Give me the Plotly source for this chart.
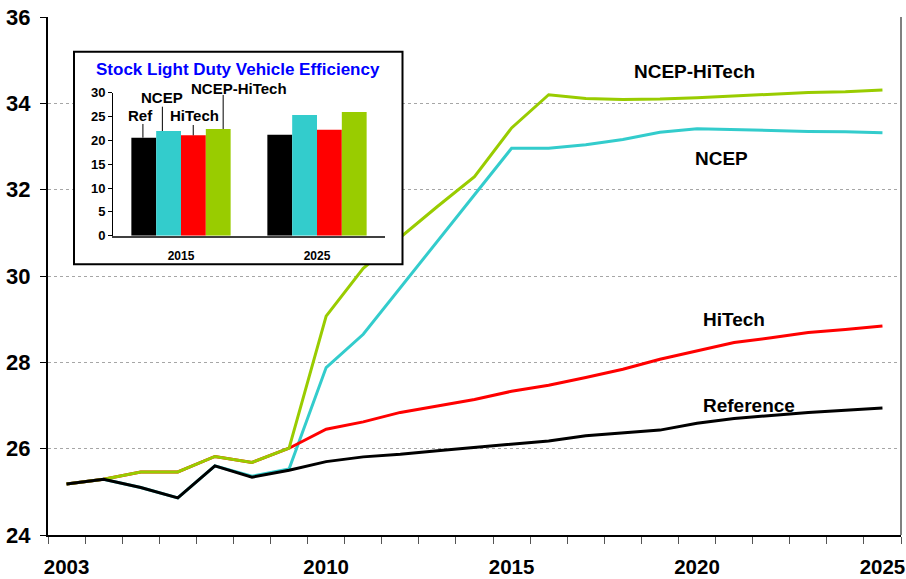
import plotly.graph_objects as go

# ---- Main chart: new light duty vehicle efficiency (mpg) by scenario ----
years = list(range(2003, 2026))
reference = [25.18, 25.29, 25.10, 24.86, 25.60, 25.34, 25.50, 25.70, 25.81, 25.87, 25.95, 26.03,
             26.11, 26.18, 26.30, 26.37, 26.43, 26.59, 26.70, 26.77, 26.84, 26.89, 26.94]
hitech = [25.18, 25.29, 25.46, 25.46, 25.82, 25.68, 26.01, 26.45, 26.62, 26.84, 26.99, 27.14,
          27.33, 27.47, 27.65, 27.84, 28.07, 28.26, 28.46, 28.57, 28.69, 28.76, 28.84]
ncep = [25.18, 25.29, 25.10, 24.86, 25.60, 25.36, 25.53, 27.88, 28.65, 29.73, 30.81, 31.88,
        32.96, 32.96, 33.04, 33.16, 33.33, 33.41, 33.39, 33.36, 33.35, 33.34, 33.32]
ncep_hitech = [25.18, 25.29, 25.46, 25.46, 25.82, 25.68, 26.01, 29.07, 30.18, 30.90, 31.61, 32.30,
               33.43, 34.20, 34.11, 34.09, 34.10, 34.13, 34.17, 34.22, 34.25, 34.27, 34.31]
year_labels = [2003, 2010, 2015, 2020, 2025]

# ---- Inset: stock light duty vehicle efficiency ----
inset_years = ["2015", "2025"]
stock_ref = [20.56, 21.19]
stock_ncep = [21.96, 25.31]
stock_hitech = [21.05, 22.24]
stock_ncep_hitech = [22.38, 25.94]

BLACK = "#000000"
RED = "#FF0000"
CYAN = "#33CCCC"
GREEN = "#99CC00"
FONT = "Liberation Sans"

fig = go.Figure()

# main lines (drawing order: NCEP, HiTech, NCEP-HiTech, Reference on top)
for name, vals, color in [("NCEP", ncep, CYAN), ("HiTech", hitech, RED),
                          ("NCEP-HiTech", ncep_hitech, GREEN), ("Reference", reference, BLACK)]:
    fig.add_trace(go.Scatter(x=years, y=vals, mode="lines", name=name,
                             line=dict(color=color, width=3), xaxis="x", yaxis="y",
                             showlegend=False))

# white panel behind the inset
fig.add_trace(go.Scatter(x=[0, 1, 1, 0, 0], y=[0, 0, 1, 1, 0], mode="lines", fill="toself",
                         fillcolor="white", line=dict(width=0, color="white"),
                         xaxis="x2", yaxis="y2", showlegend=False, hoverinfo="skip"))

# inset bars
inset_x = [0, 1]
for name, vals, color in [("Ref", stock_ref, BLACK), ("NCEP", stock_ncep, CYAN),
                          ("HiTech", stock_hitech, RED), ("NCEP-HiTech", stock_ncep_hitech, GREEN)]:
    fig.add_trace(go.Bar(x=inset_x, y=vals, name=name, marker=dict(color=color, line=dict(width=0)),
                         xaxis="x3", yaxis="y3", showlegend=False))

# plot area: x 48..901 px, y 17..535 px
PLOT_L, PLOT_R = 48, 901
PLOT_W = PLOT_R - PLOT_L


def px_x(p):
    return (p - PLOT_L) / PLOT_W


box_x0, box_x1 = px_x(74), px_x(402.5)
box_y0, box_y1 = 0.5226, 0.9330
inset_x0, inset_x1 = px_x(113), px_x(385)
inset_y0, inset_y1 = 0.5778, 0.8539
inset_ymax = 30


def inset_paper_y(v):
    return inset_y0 + v / inset_ymax * (inset_y1 - inset_y0)


fig.update_layout(
    width=906, height=579,
    margin=dict(l=PLOT_L, r=906 - PLOT_R, t=17, b=44, autoexpand=False),
    paper_bgcolor="white", plot_bgcolor="white",
    barmode="group", bargap=0.27, bargroupgap=0,
    font=dict(family=FONT, color="black"),
    xaxis=dict(
        range=[2002.5, 2025.5], domain=[0, 1], automargin=False,
        tickmode="array", tickvals=year_labels, ticktext=[str(y) for y in year_labels],
        ticks="", showgrid=False, zeroline=False,
        showline=True, linecolor="black", linewidth=2,
        tickfont=dict(family=FONT, size=20.5, weight="bold"),
        ticklabelstandoff=12, ticklabeloverflow="allow",
        minor=dict(tickmode="array", tickvals=[y - 0.5 for y in years] + [2025.5],
                   ticks="outside", ticklen=7, tickwidth=1, tickcolor="#555555", showgrid=False),
    ),
    yaxis=dict(
        range=[24, 36], domain=[0, 1], dtick=2, tick0=24, automargin=False,
        ticks="outside", ticklen=6, tickwidth=1, tickcolor="black",
        showline=True, linecolor="black", linewidth=2,
        showgrid=True, gridcolor="#A6A6A6", gridwidth=1, griddash="dot",
        zeroline=False,
        tickfont=dict(family=FONT, size=22, weight="bold"),
        ticklabelstandoff=5, ticklabeloverflow="allow",
    ),
    xaxis2=dict(domain=[box_x0, box_x1], range=[0, 1], anchor="y2", visible=False,
                fixedrange=True, automargin=False),
    yaxis2=dict(domain=[box_y0, box_y1], range=[0, 1], anchor="x2", visible=False,
                fixedrange=True, automargin=False),
    xaxis3=dict(
        domain=[inset_x0, inset_x1], range=[-0.5, 1.5], anchor="y3", automargin=False,
        tickmode="array", tickvals=inset_x, ticktext=inset_years,
        ticks="", showgrid=False, zeroline=False,
        showline=True, linecolor="#404040", linewidth=1.5,
        tickfont=dict(family=FONT, size=12, weight="bold"),
        ticklabelstandoff=8,
    ),
    yaxis3=dict(
        domain=[inset_y0, inset_y1], range=[0, inset_ymax], dtick=5, anchor="x3",
        automargin=False,
        ticks="outside", ticklen=4, tickwidth=1, tickcolor="black",
        showline=True, linecolor="black", linewidth=1,
        showgrid=False, zeroline=False,
        tickfont=dict(family=FONT, size=13, weight="bold"),
    ),
)

shapes = [
    # inset frame
    dict(type="rect", xref="paper", yref="paper", x0=box_x0, x1=box_x1, y0=box_y0, y1=box_y1,
         line=dict(color="black", width=2), fillcolor="rgba(0,0,0,0)", layer="above"),
    # right edge of the plot area
    dict(type="line", xref="paper", yref="paper", x0=1, x1=1, y0=0, y1=1,
         line=dict(color="#808080", width=2), layer="above"),
]

# inset bar labels with leader lines
bar_labels = [
    ("Ref", -0.30, 25.2, -0.28, 23.43, stock_ref[0]),
    ("NCEP", -0.14, 28.9, -0.137, 27.06, stock_ncep[0]),
    ("HiTech", 0.10, 25.2, 0.09, 23.22, stock_hitech[0]),
    ("NCEP-HiTech", 0.43, 30.8, 0.31, 29.52, stock_ncep_hitech[0]),
]
annotations = []
for text, lx, ly, lead_x, lead_top, bar_top in bar_labels:
    annotations.append(dict(text=text, x=lx, y=inset_paper_y(ly), xref="x3", yref="paper",
                            showarrow=False,
                            font=dict(family=FONT, size=15, weight="bold", color="black"),
                            xanchor="center", yanchor="middle"))
    shapes.append(dict(type="line", xref="x3", yref="y3", x0=lead_x, x1=lead_x,
                       y0=bar_top, y1=lead_top, line=dict(color="black", width=1)))

annotations.append(dict(text="Stock Light Duty Vehicle Efficiency", x=px_x(238), y=0.8977,
                        xref="paper", yref="paper", showarrow=False,
                        font=dict(family=FONT, size=17, weight="bold", color="#0000FF"),
                        xanchor="center", yanchor="middle"))

# scenario labels on the main chart
for text, x, y in [("NCEP-HiTech", 2019.93, 34.73), ("NCEP", 2020.66, 32.73),
                   ("HiTech", 2021.01, 29.00), ("Reference", 2021.41, 26.99)]:
    annotations.append(dict(text=text, x=x, y=y, xref="x", yref="y", showarrow=False,
                            font=dict(family=FONT, size=19, weight="bold", color="black"),
                            xanchor="center", yanchor="middle"))

fig.update_layout(shapes=shapes, annotations=annotations)

fig.write_html("out.html")
